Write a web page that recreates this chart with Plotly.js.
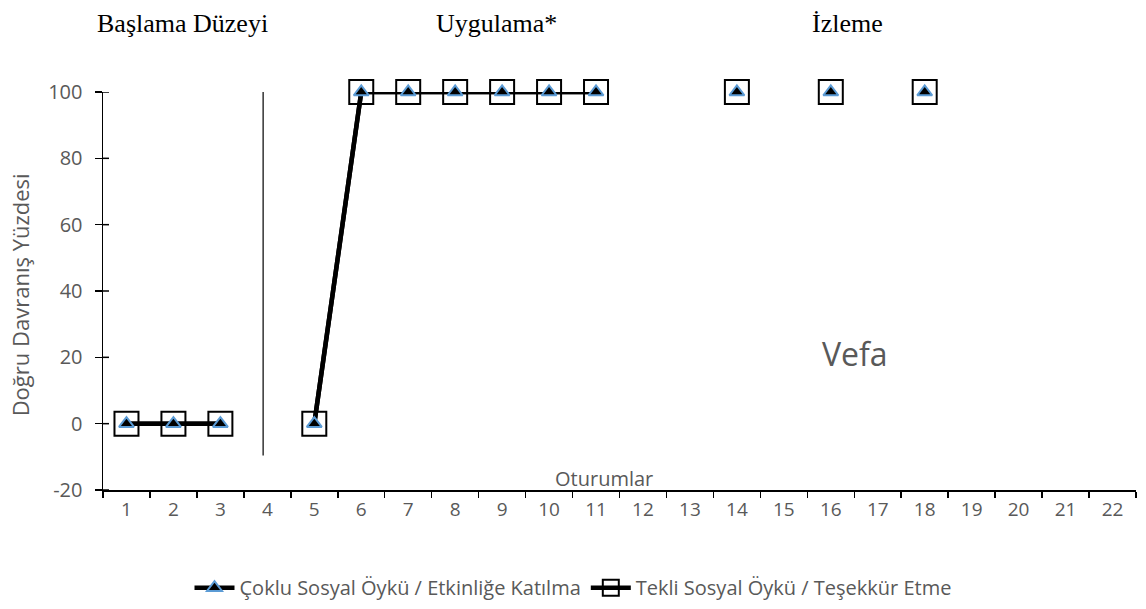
<!DOCTYPE html>
<html>
<head>
<meta charset="utf-8">
<script src="https://cdn.plot.ly/plotly-3.0.1.min.js"></script>
<style>html,body{margin:0;padding:0;background:#fff;}#chart{width:1146px;height:609px;}</style>
</head>
<body>
<div id="chart"></div>
<script>
const sessions = ["1","2","3","4","5","6","7","8","9","10","11","12","13","14","15","16","17","18","19","20","21","22"];
const cokluEtkinlik = [0,0,0,null,0,100,100,100,100,100,100,null,null,100,null,100,null,100,null,null,null,null];
const tekliTesekkur = [0,0,0,null,0,100,100,100,100,100,100,null,null,100,null,100,null,100,null,null,null,null];
const yTickVals = [-20,0,20,40,60,80,100];
const yTickText = ["-20","0","20","40","60","80","100"];
const seriesNames = ["Çoklu Sosyal Öykü / Etkinliğe Katılma","Tekli Sosyal Öykü / Teşekkür Etme"];
const phaseLabels = ["Başlama Düzeyi","Uygulama*","İzleme"];

const grey = "#595959";
const sans = "Open Sans, Noto Sans, sans-serif";
const serif = "Liberation Serif, Times New Roman, serif";

const traces = [
  {
    x: sessions, y: tekliTesekkur, name: seriesNames[1], type: "scatter", mode: "lines+markers",
    connectgaps: false, cliponaxis: false,
    line: {color: "#000000", width: 4.5},
    marker: {symbol: "square-open", size: 24, color: "#000000", line: {width: 2, color: "#000000"}}
  },
  {
    x: sessions, y: cokluEtkinlik, name: seriesNames[0], type: "scatter", mode: "lines+markers",
    connectgaps: false, cliponaxis: false,
    line: {color: "#000000", width: 4.5},
    marker: {symbol: "triangle-up", size: 13, color: "#000000", line: {width: 2, color: "#5B9BD5"}}
  }
];

// inner halves of the y ticks (the reference ticks cross the axis line)
const innerTicks = yTickVals.map(v => ({
  type: "line", xref: "paper", xsizemode: "pixel", xanchor: 0, x0: 0, x1: 6,
  yref: "y", y0: v, y1: v, line: {color: "#000000", width: 1.5}
}));

const layout = {
  width: 1146, height: 609,
  margin: {l: 103, r: 10, t: 92, b: 119},
  paper_bgcolor: "#ffffff", plot_bgcolor: "#ffffff",
  showlegend: true,
  legend: {orientation: "h", traceorder: "reversed", xref: "container", yref: "container",
           x: 0.5, xanchor: "center", y: 0.035, yanchor: "middle",
           font: {family: sans, size: 20, color: grey}, itemwidth: 40, tracegroupgap: 0},
  xaxis: {
    type: "category", categoryorder: "array", categoryarray: sessions,
    range: [-0.5, 21.5], tickson: "boundaries",
    showline: true, linecolor: "#000000", linewidth: 1.5,
    ticks: "outside", ticklen: 6, tickcolor: "#000000", tickwidth: 1.5,
    showgrid: false, zeroline: false, ticklabelstandoff: 2,
    tickfont: {family: sans, size: 19, color: grey}
  },
  yaxis: {
    range: [-20, 100], tickvals: yTickVals, ticktext: yTickText,
    showline: true, linecolor: "#000000", linewidth: 1.5,
    ticks: "outside", ticklen: 7, tickcolor: "#000000", tickwidth: 1.5,
    showgrid: false, zeroline: false, ticklabelstandoff: 8,
    tickfont: {family: sans, size: 20, color: grey}
  },
  shapes: [
    {type: "line", xref: "x", yref: "y", x0: 2.91, x1: 2.91, y0: -9.6, y1: 104.5,
     line: {color: "#000000", width: 1.2}}
  ].concat(innerTicks),
  annotations: [
    {text: phaseLabels[0], xref: "paper", yref: "paper", x: 0.077, y: 1.172, showarrow: false,
     xanchor: "center", yanchor: "middle", font: {family: serif, size: 26, color: "#000000"}},
    {text: phaseLabels[1], xref: "paper", yref: "paper", x: 0.381, y: 1.172, showarrow: false,
     xanchor: "center", yanchor: "middle", font: {family: serif, size: 26, color: "#000000"}},
    {text: phaseLabels[2], xref: "paper", yref: "paper", x: 0.721, y: 1.172, showarrow: false,
     xanchor: "center", yanchor: "middle", font: {family: serif, size: 26, color: "#000000"}},
    {text: "Vefa", xref: "paper", yref: "paper", x: 0.728, y: 0.342, showarrow: false,
     xanchor: "center", yanchor: "middle", font: {family: sans, size: 32, color: grey}},
    {text: "Oturumlar", xref: "paper", yref: "paper", x: 0.485, y: 0.03, showarrow: false,
     xanchor: "center", yanchor: "middle", font: {family: sans, size: 20, color: grey}},
    {text: "Doğru Davranış Yüzdesi", xref: "paper", yref: "paper", x: -0.080, y: 0.49, showarrow: false,
     textangle: -90, xanchor: "center", yanchor: "middle", font: {family: sans, size: 22, color: grey}}
  ]
};

Plotly.newPlot("chart", traces, layout, {displayModeBar: false, staticPlot: true});
</script>
</body>
</html>
